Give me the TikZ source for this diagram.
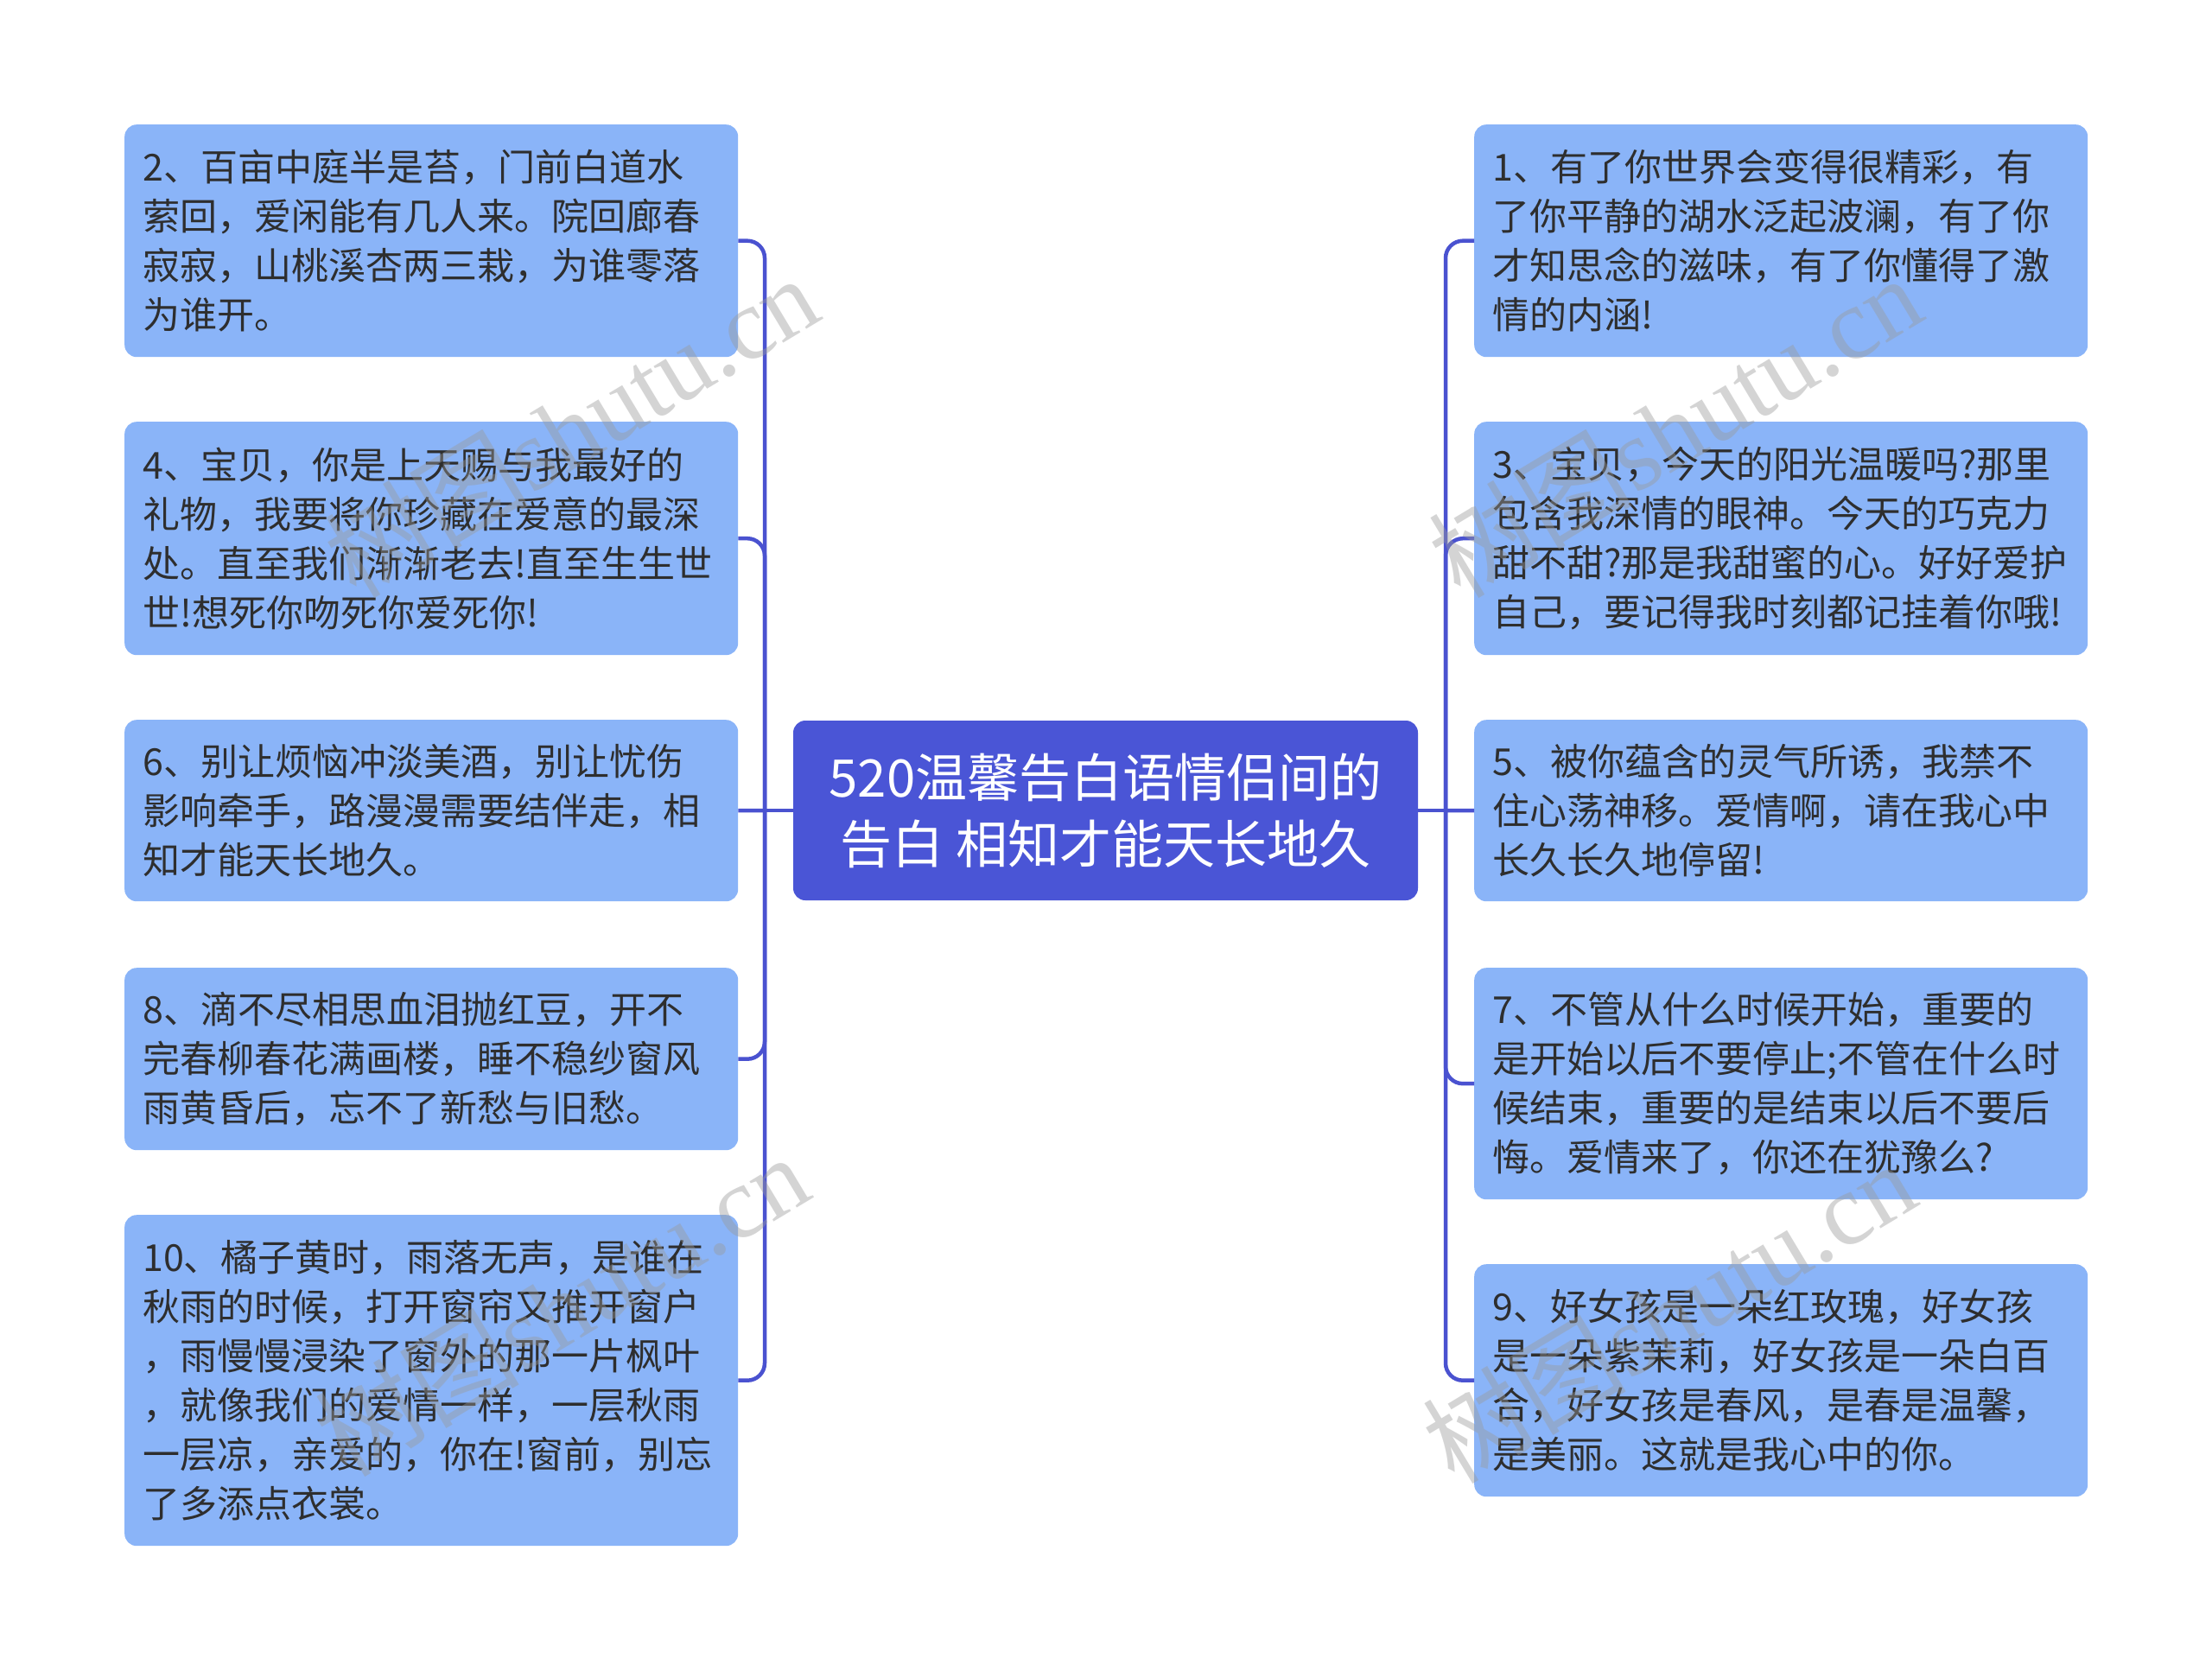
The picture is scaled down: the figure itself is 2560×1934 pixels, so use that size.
\documentclass[tikz,border=0pt]{standalone}
\usepackage{fontspec}
\newfontfamily\cjk{Noto Sans CJK SC}
\newfontfamily\wmserif{Liberation Serif}
\definecolor{mainblue}{HTML}{4A55D6}
\definecolor{linkblue}{HTML}{4A52D0}
\definecolor{leafblue}{HTML}{8AB4F8}
\definecolor{leaftext}{HTML}{2E2E2E}
\definecolor{wmgray}{HTML}{9A9A9A}
\begin{document}
\begin{tikzpicture}[x=1pt,y=-1pt,
  leaf/.style={rounded corners=14pt, fill=leafblue, text=leaftext, anchor=north west,
    text width=668pt, inner xsep=21pt, inner ysep=0pt, align=left,
    font={\cjk\fontsize{43pt}{57pt}\selectfont}},
  rootbox/.style={rounded corners=14pt, fill=mainblue, text=white,
    minimum width=723pt, minimum height=208pt, inner sep=0pt, align=center,
    font={\cjk\fontsize{60pt}{77pt}\selectfont}},
  conn/.style={draw=linkblue, line width=4.5pt, rounded corners=20pt},
  wmark/.style={text=wmgray, opacity=0.42, rotate=31, inner sep=0pt}
]
\useasboundingbox (0,0) rectangle (2560,1934);
\fill[white] (0,0) rectangle (2560,1934);

% root
\node[rootbox] (root) at (1279.5,938) {520温馨告白语情侣间的\\告白 相知才能天长地久};

% left leaves
\node[leaf, minimum height=269pt] (n2) at (144,144) {2、百亩中庭半是苔，门前白道水\\萦回，爱闲能有几人来。院回廊春\\寂寂，山桃溪杏两三栽，为谁零落\\为谁开。};
\node[leaf, minimum height=270pt] (n4) at (144,488) {4、宝贝，你是上天赐与我最好的\\礼物，我要将你珍藏在爱意的最深\\处。直至我们渐渐老去!直至生生世\\世!想死你吻死你爱死你!};
\node[leaf, minimum height=210pt] (n6) at (144,833) {6、别让烦恼冲淡美酒，别让忧伤\\影响牵手，路漫漫需要结伴走，相\\知才能天长地久。};
\node[leaf, minimum height=211pt] (n8) at (144,1120) {8、滴不尽相思血泪抛红豆，开不\\完春柳春花满画楼，睡不稳纱窗风\\雨黄昏后，忘不了新愁与旧愁。};
\node[leaf, minimum height=383pt] (n10) at (144,1406) {10、橘子黄时，雨落无声，是谁在\\秋雨的时候，打开窗帘又推开窗户\\，雨慢慢浸染了窗外的那一片枫叶\\，就像我们的爱情一样，一层秋雨\\一层凉，亲爱的，你在!窗前，别忘\\了多添点衣裳。};

% right leaves
\node[leaf, minimum height=269pt] (n1) at (1706,144) {1、有了你世界会变得很精彩，有\\了你平静的湖水泛起波澜，有了你\\才知思念的滋味，有了你懂得了激\\情的内涵!};
\node[leaf, minimum height=270pt] (n3) at (1706,488) {3、宝贝，今天的阳光温暖吗?那里\\包含我深情的眼神。今天的巧克力\\甜不甜?那是我甜蜜的心。好好爱护\\自己，要记得我时刻都记挂着你哦!};
\node[leaf, minimum height=210pt] (n5) at (1706,833) {5、被你蕴含的灵气所诱，我禁不\\住心荡神移。爱情啊，请在我心中\\长久长久地停留!};
\node[leaf, minimum height=268pt] (n7) at (1706,1120) {7、不管从什么时候开始，重要的\\是开始以后不要停止;不管在什么时\\候结束，重要的是结束以后不要后\\悔。爱情来了，你还在犹豫么?};
\node[leaf, minimum height=269pt] (n9) at (1706,1463) {9、好女孩是一朵红玫瑰，好女孩\\是一朵紫茉莉，好女孩是一朵白百\\合，好女孩是春风，是春是温馨，\\是美丽。这就是我心中的你。};

% connectors
\coordinate (jl) at (885,938);
\coordinate (jr) at (1673,938);
\draw[conn] (root.west) -- (jl);
\draw[conn] (root.east) -- (jr);
\draw[conn] (jl) |- (n2.east);
\draw[conn] (jl) |- (n4.east);
\draw[conn] (jl) -- (n6.east);
\draw[conn] (jl) |- (n8.east);
\draw[conn] (jl) |- (n10.east);
\draw[conn] (jr) |- (n1.west);
\draw[conn] (jr) |- (n3.west);
\draw[conn] (jr) -- (n5.west);
\draw[conn] (jr) |- (n7.west);
\draw[conn] (jr) |- (n9.west);

% watermarks
\node[wmark] (wm1) at (661,493) {\fontsize{118pt}{118pt}\selectfont\cjk 树图\wmserif shutu.cn};
\node[wmark] (wm2) at (1938,493) {\fontsize{118pt}{118pt}\selectfont\cjk 树图\wmserif shutu.cn};
\node[wmark] (wm3) at (650,1510) {\fontsize{118pt}{118pt}\selectfont\cjk 树图\wmserif shutu.cn};
\node[wmark] (wm4) at (1931,1518) {\fontsize{118pt}{118pt}\selectfont\cjk 树图\wmserif shutu.cn};
\end{tikzpicture}
\end{document}
